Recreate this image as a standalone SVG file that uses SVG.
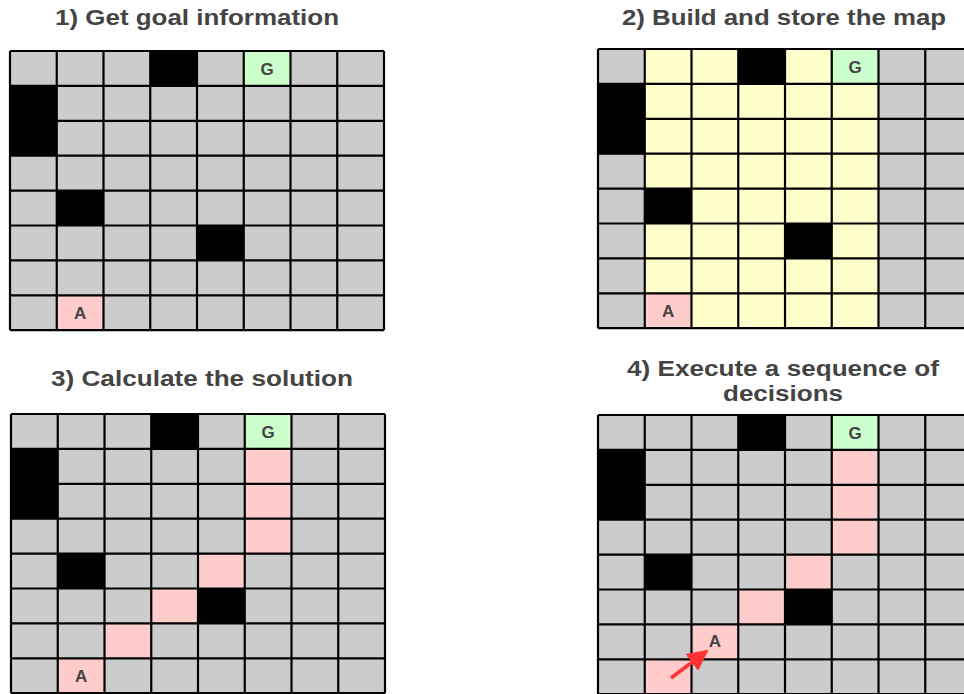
<svg xmlns="http://www.w3.org/2000/svg" width="964" height="694" viewBox="0 0 964 694">
<style>
.title{font-family:"Liberation Sans",Arial,sans-serif;font-weight:bold;font-size:22px;fill:#444444;text-anchor:middle}
.lbl{font-family:"Liberation Sans",Arial,sans-serif;font-weight:bold;font-size:17px;fill:#444444;text-anchor:middle}
.bg{fill:#cccccc}
.blk{fill:#000000}
.grn{fill:#ccffcc}
.pnk{fill:#ffcccc}
.yel{fill:#ffffcc}
.grid{fill:none;stroke:#000000;stroke-width:2.2}
</style>
<defs>
<path id="lines" class="grid" d="M0,0V279.2M46.75,0V279.2M93.5,0V279.2M140.25,0V279.2M187,0V279.2M233.75,0V279.2M280.5,0V279.2M327.25,0V279.2M374,0V279.2M0,0H374M0,34.9H374M0,69.8H374M0,104.7H374M0,139.6H374M0,174.5H374M0,209.4H374M0,244.3H374M0,279.2H374"/>
<g id="base">
<rect class="bg" x="0" y="0" width="374" height="279.2"/>
</g>
<g id="walls">
<rect class="blk" x="140.25" y="0" width="46.75" height="34.9"/>
<rect class="blk" x="0" y="34.9" width="46.75" height="69.8"/>
<rect class="blk" x="46.75" y="139.6" width="46.75" height="34.9"/>
<rect class="blk" x="187" y="174.5" width="46.75" height="34.9"/>
<rect class="grn" x="233.75" y="0" width="46.75" height="34.9"/>
<text class="lbl" x="257.1" y="23.5">G</text>
</g>
<marker id="ah" markerWidth="6" markerHeight="6" refX="4" refY="3" orient="auto" markerUnits="strokeWidth">
<path d="M0,0L6,3L0,6z" fill="#ff3333"/>
</marker>
</defs>

<g id="title1"><text class="title" x="197" y="25" textLength="284" lengthAdjust="spacingAndGlyphs">1) Get goal information</text></g>
<g id="title2"><text class="title" x="784" y="25" textLength="324" lengthAdjust="spacingAndGlyphs">2) Build and store the map</text></g>
<g id="title3"><text class="title" x="202" y="386" textLength="302" lengthAdjust="spacingAndGlyphs">3) Calculate the solution</text></g>
<g id="title4"><text class="title" x="783" y="376" textLength="312" lengthAdjust="spacingAndGlyphs">4) Execute a sequence of</text><text class="title" x="783" y="401" textLength="120" lengthAdjust="spacingAndGlyphs">decisions</text></g>

<g id="grid1" transform="translate(10,51)">
<use href="#base"/>
<use href="#walls"/>
<rect class="pnk" x="46.75" y="244.3" width="46.75" height="34.9"/>
<text class="lbl" x="70.1" y="267.8">A</text>
<use href="#lines"/>
</g>

<g id="grid2" transform="translate(598,49)">
<use href="#base"/>
<rect class="yel" x="46.75" y="0" width="233.75" height="279.2"/>
<use href="#walls"/>
<rect class="pnk" x="46.75" y="244.3" width="46.75" height="34.9"/>
<text class="lbl" x="70.1" y="267.8">A</text>
<use href="#lines"/>
</g>

<g id="grid3" transform="translate(11,414)">
<use href="#base"/>
<use href="#walls"/>
<rect class="pnk" x="233.75" y="34.9" width="46.75" height="104.7"/>
<rect class="pnk" x="187" y="139.6" width="46.75" height="34.9"/>
<rect class="pnk" x="140.25" y="174.5" width="46.75" height="34.9"/>
<rect class="pnk" x="93.5" y="209.4" width="46.75" height="34.9"/>
<rect class="pnk" x="46.75" y="244.3" width="46.75" height="34.9"/>
<text class="lbl" x="70.1" y="267.8">A</text>
<use href="#lines"/>
</g>

<g id="grid4" transform="translate(598,415)">
<use href="#base"/>
<use href="#walls"/>
<rect class="pnk" x="233.75" y="34.9" width="46.75" height="104.7"/>
<rect class="pnk" x="187" y="139.6" width="46.75" height="34.9"/>
<rect class="pnk" x="140.25" y="174.5" width="46.75" height="34.9"/>
<rect class="pnk" x="93.5" y="209.4" width="46.75" height="34.9"/>
<rect class="pnk" x="46.75" y="244.3" width="46.75" height="34.9"/>
<text class="lbl" x="116.9" y="232">A</text>
<use href="#lines"/>
</g>

<g id="connectors">
<line x1="671" y1="678" x2="703" y2="654" stroke="#ff3333" stroke-width="3.5" marker-end="url(#ah)"/>
</g>
</svg>
